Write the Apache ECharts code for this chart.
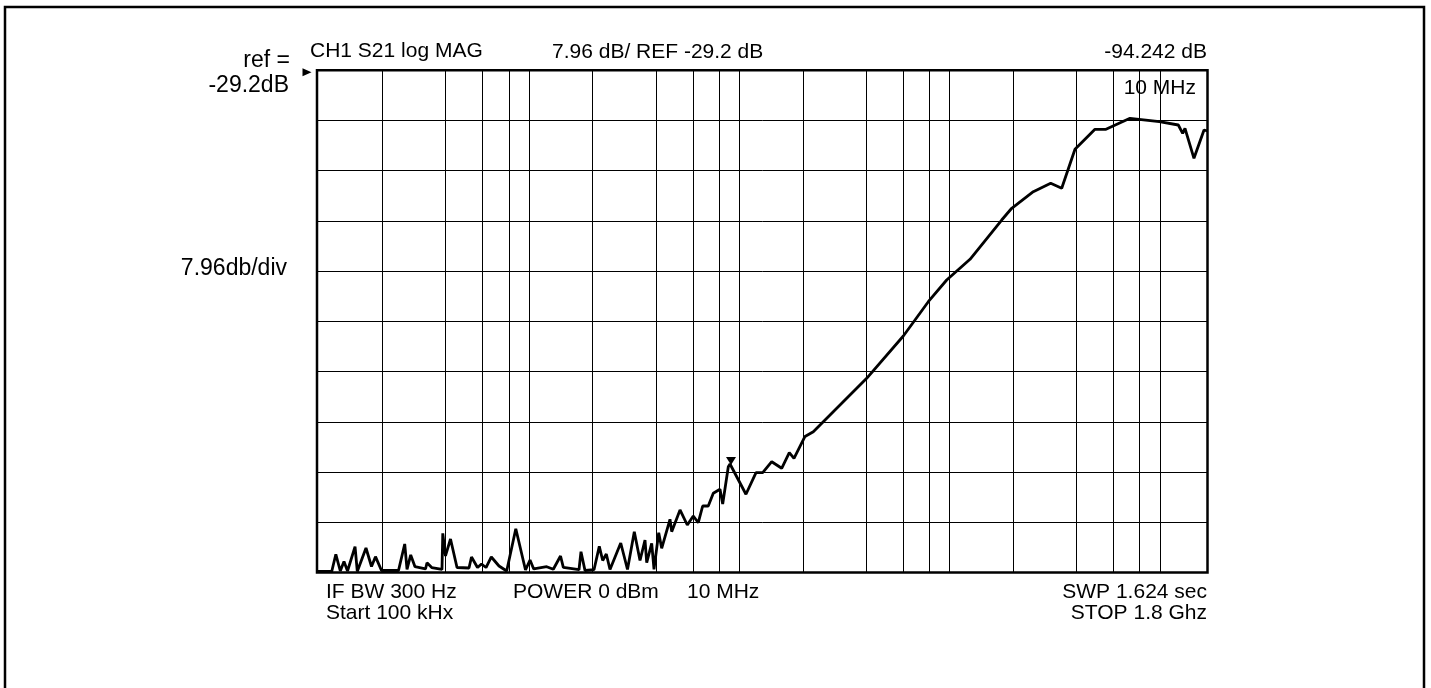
<!DOCTYPE html>
<html>
<head>
<meta charset="utf-8">
<script src="https://cdn.jsdelivr.net/npm/echarts@6/dist/echarts.min.js"></script>
<style>
html,body{margin:0;padding:0;background:#fff;}
#chart{width:1431px;height:688px;}
</style>
</head>
<body>
<div id="chart"></div>
<script>
// ---- data ----
const freqMHz = [
  0.0988, 0.1148, 0.1201, 0.1261, 0.1313, 0.1365, 0.1482, 0.1519, 0.1671, 0.1775,
  0.1854, 0.1980, 0.2386, 0.2554, 0.2619, 0.2727, 0.2858, 0.3207, 0.3260, 0.3433,
  0.3841, 0.3875, 0.3991, 0.4217, 0.4529, 0.5164, 0.5308, 0.5669, 0.5923, 0.6222,
  0.6594, 0.7174, 0.7805, 0.8623, 0.9591, 1.0076, 1.0493, 1.2096, 1.3004, 1.4074,
  1.4513, 1.7230, 1.7611, 1.8401, 2.031, 2.152, 2.234, 2.324, 2.420, 2.722,
  2.931, 3.158, 3.362, 3.551, 3.618, 3.821, 3.919, 4.126, 4.263, 4.669,
  4.757, 5.211, 5.644, 6.026, 6.365, 6.679, 7.101, 7.502, 8.074, 8.316,
  8.843, 9.010, 10.73, 11.98, 12.89, 14.23, 15.87, 17.25, 18.16, 20.49,
  22.44, 26.95, 40.27, 60.16, 79.08, 96.72, 124.9, 176.7, 197.2, 249.8,
  302.2, 341.0, 394.4, 491.0, 553.9, 720.7, 993.2, 1223, 1283, 1316,
  1452, 1621, 1684
];
const levelDb = [
  -108.64, -108.64, -105.91, -108.56, -107.06, -108.56, -104.71, -108.64, -104.92, -107.85,
  -106.29, -108.48, -108.48, -104.28, -108.32, -106.02, -107.88, -108.24, -107.26, -108.01,
  -108.32, -102.59, -106.18, -103.49, -108.01, -108.09, -106.34, -108.01, -107.45, -108.01,
  -106.34, -107.77, -108.56, -101.87, -108.40, -106.82, -108.24, -107.88, -108.29, -106.18,
  -107.98, -108.36, -105.50, -108.48, -108.36, -104.65, -106.90, -105.87, -108.32, -104.12,
  -108.32, -102.33, -106.90, -103.65, -107.25, -104.17, -108.29, -102.49, -104.96, -100.37,
  -102.33, -98.89, -101.27, -99.84, -100.91, -98.26, -98.26, -96.25, -95.61, -97.94,
  -92.03, -91.60, -96.40, -92.98, -92.98, -91.24, -92.28, -89.81, -90.70, -87.24,
  -86.48, -83.84, -78.02, -71.31, -65.88, -62.44, -59.16, -52.93, -51.07, -48.44,
  -47.11, -47.90, -41.72, -38.55, -38.55, -36.81, -37.35, -37.87, -39.19, -38.39,
  -43.15, -38.66, -38.82
];
const gridFreqMHz = [0.2, 0.4, 0.6, 0.8, 1, 2, 4, 6, 8, 10, 20, 40, 60, 80, 100, 200, 400, 600, 800, 1000];
const REF_DB = -29.2;
const DB_PER_DIV = 7.96;
const DIVISIONS = 10;
const X_MIN_MHZ = 0.0977;
const X_MAX_MHZ = 1684;
const markerIndex = 71;

const topTexts = [
  {t: 'CH1 S21 log MAG', x: 310, y: 51, a: 'left'},
  {t: '7.96 dB/ REF -29.2 dB', x: 552, y: 52, a: 'left'},
  {t: '-94.242 dB', x: 1207, y: 52, a: 'right'},
  {t: '10 MHz', x: 1196, y: 88, a: 'right'}
];
const leftTexts = [
  {t: 'ref =', x: 290, y: 61, a: 'right'},
  {t: '-29.2dB', x: 289, y: 86, a: 'right'},
  {t: '7.96db/div', x: 287, y: 269, a: 'right'}
];
const bottomTexts = [
  {t: 'IF BW 300 Hz', x: 326, y: 592, a: 'left'},
  {t: 'Start 100 kHx', x: 326, y: 613, a: 'left'},
  {t: 'POWER 0 dBm', x: 513, y: 592, a: 'left'},
  {t: '10 MHz', x: 687, y: 592, a: 'left'},
  {t: 'SWP 1.624 sec', x: 1207, y: 592, a: 'right'},
  {t: 'STOP 1.8 Ghz', x: 1207, y: 613, a: 'right'}
];

const FONT = "'Liberation Sans', Arial, Helvetica, sans-serif";
function txt(o, size) {
  return {
    type: 'text', x: o.x, y: o.y, z: 1,
    style: {text: o.t, fill: '#000', font: size + 'px ' + FONT, textAlign: o.a, textVerticalAlign: 'middle'}
  };
}

const chart = echarts.init(document.getElementById('chart'), null, {renderer: 'canvas'});
const trace = freqMHz.map((f, i) => [f, levelDb[i]]);

chart.setOption({
  animation: false,
  backgroundColor: '#fff',
  grid: {left: 317, right: 223.5, top: 70.3, bottom: 115.5, show: true, borderColor: '#000', borderWidth: 2.5, backgroundColor: 'transparent'},
  xAxis: {
    type: 'log', logBase: 10, min: X_MIN_MHZ, max: X_MAX_MHZ,
    axisLine: {show: false}, axisTick: {show: false}, axisLabel: {show: false}, splitLine: {show: false}
  },
  yAxis: [
    {type: 'value', min: REF_DB - DIVISIONS * DB_PER_DIV, max: REF_DB, show: false},
    {type: 'value', min: 0, max: DIVISIONS, interval: 1, position: 'left',
     axisLine: {show: false}, axisTick: {show: false}, axisLabel: {show: false},
     splitLine: {show: true, lineStyle: {color: '#000', width: 1}}}
  ],
  series: [
    {
      type: 'line', data: [], z: 1, silent: true,
      markLine: {
        silent: true, symbol: 'none', animation: false,
        label: {show: false},
        lineStyle: {color: '#000', width: 1, type: 'solid'},
        emphasis: {disabled: true},
        data: gridFreqMHz.map(f => ({xAxis: f}))
      }
    },
    {
      type: 'line', data: trace, z: 5, showSymbol: false, silent: true,
      lineStyle: {color: '#000', width: 2.8},
      markPoint: {
        silent: true, animation: false,
        label: {show: false},
        data: [
          {coord: trace[markerIndex], symbol: 'triangle', symbolRotate: 180, symbolSize: [10, 8], symbolOffset: [1, -3], itemStyle: {color: '#000'}},
          {coord: [X_MIN_MHZ, REF_DB], symbol: 'triangle', symbolRotate: -90, symbolSize: [8, 9], symbolOffset: [-10, 2], itemStyle: {color: '#000'}}
        ]
      }
    }
  ],
  graphic: [
    {type: 'rect', shape: {x: 5, y: 7, width: 1419, height: 700}, style: {fill: 'none', stroke: '#000', lineWidth: 2.5}, z: 0}
  ].concat(topTexts.map(o => txt(o, 21)), leftTexts.map(o => txt(o, 23)), bottomTexts.map(o => txt(o, 21)))
});
</script>
</body>
</html>
